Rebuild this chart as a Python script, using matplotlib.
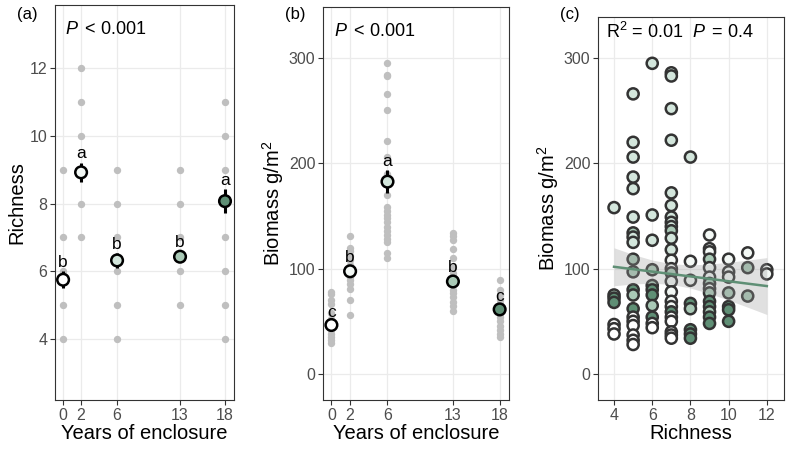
import matplotlib.pyplot as plt
import numpy as np

plt.rcParams['font.family'] = ['Liberation Sans', 'DejaVu Sans']
plt.rcParams['mathtext.fontset'] = 'custom'
plt.rcParams['mathtext.rm'] = 'Liberation Sans'
plt.rcParams['mathtext.it'] = 'Liberation Sans:italic'

# data
years = [0, 2, 6, 13, 18]
year_cols = ['#ffffff', '#f3f8f5', '#d3e6dc', '#a9c9b6', '#5f8f75']

rich_pts = [[4, 5, 6, 7, 9],
            [7, 8, 9, 10, 11, 12],
            [4, 5, 6, 7, 8, 9],
            [5, 6, 7, 8, 9],
            [4, 5, 6, 7, 8, 9, 10, 11]]
rich_mean = [5.75, 8.92, 6.32, 6.43, 8.07]
rich_se = [0.25, 0.29, 0.22, 0.15, 0.35]
rich_letters = ['b', 'a', 'b', 'b', 'a']

bio_pts = [[78, 76, 70, 66, 58, 52, 45, 42, 38, 35, 32, 29],
           [131, 120, 117, 112, 108, 103, 98, 95, 92, 89, 85, 81, 70, 56],
           [295, 284, 283, 266, 251, 221, 206, 190, 170, 159, 155, 151, 148,
            144, 140, 136, 132, 128, 125, 115, 110],
           [134, 131, 127, 119, 110, 102, 96, 92, 85, 80, 77, 73, 68, 65, 60],
           [89, 80, 75, 70, 66, 62, 58, 54, 50, 46, 42, 38, 35]]
bio_mean = [46.5, 97.5, 182.6, 87.8, 61.3]
bio_se = [4, 5, 11, 5, 4]
bio_letters = ['c', 'b', 'a', 'b', 'c']

c_rich = [4, 4, 4, 4, 4, 4, 4,
          5, 5, 5, 5, 5, 5, 5, 5, 5, 5, 5, 5, 5, 5, 5, 5, 5, 5, 5, 5,
          6, 6, 6, 6, 6, 6, 6, 6, 6, 6, 6,
          7, 7, 7, 7, 7, 7, 7, 7, 7, 7, 7, 7, 7, 7, 7, 7, 7, 7, 7, 7, 7, 7, 7, 7, 7,
          8, 8, 8, 8, 8, 8, 8, 8,
          9, 9, 9, 9, 9, 9, 9, 9, 9, 9, 9, 9, 9, 9,
          10, 10, 10, 10, 10, 10, 10,
          11, 11, 11,
          12, 12]
c_bio = [158, 75, 72, 68, 47, 43, 38,
         266, 220, 206, 187, 176, 149, 134, 130, 125, 109, 97, 80, 75, 62, 54, 50, 46, 37, 32, 28,
         295, 151, 127, 99, 84, 80, 75, 65, 54, 48, 44,
         286, 283, 252, 222, 172, 160, 149, 144, 140, 136, 129, 118, 108, 100, 96, 88, 78, 69, 64,
         59, 54, 50, 40, 37, 34,
         206, 107, 89, 67, 62, 42, 38, 34,
         132, 119, 116, 109, 101, 92, 86, 81, 77, 69, 64, 59, 54, 48,
         109, 97, 92, 77, 64, 61, 50,
         115, 101, 74,
         99, 95]
c_year = [6, 13, 18, 18, 0, 0, 0,
          6, 6, 6, 6, 6, 6, 13, 6, 6, 13, 13, 18, 13, 18, 0, 0, 0, 0, 0, 0,
          6, 6, 6, 13, 13, 18, 18, 13, 18, 0, 0,
          6, 6, 6, 6, 6, 6, 6, 6, 6, 13, 6, 6, 2, 2, 13, 2, 2, 2, 2,
          18, 0, 0, 0, 0, 0,
          6, 2, 2, 18, 13, 18, 18, 18,
          2, 2, 2, 13, 2, 2, 13, 2, 13, 18, 18, 13, 18, 18,
          2, 2, 2, 13, 18, 18, 18,
          2, 13, 13,
          2, 2]

fit_x = [4, 12]
fit_y = [101.8, 83.5]
band_x = [4, 5, 6, 7, 8, 9, 10, 11, 12]
band_lo = [83.8, 85.5, 86.2, 85.1, 81.6, 76.4, 70.1, 63.4, 56.5]
band_hi = [119.8, 113.5, 108.2, 104.7, 103.6, 104.4, 106.1, 108.2, 110.5]

W, H = 787, 449
fig = plt.figure(figsize=(W / 100, H / 100), dpi=100)

def box(l, r, t, b):
    return [l / W, 1 - b / H, (r - l) / W, (b - t) / H]

ax1 = fig.add_axes(box(55, 234, 5, 400))
ax2 = fig.add_axes(box(323, 509, 7, 400))
ax3 = fig.add_axes(box(598, 784, 17, 400))

for ax in (ax1, ax2, ax3):
    ax.set_facecolor('white')
    ax.grid(True, color='#ebebeb', lw=0.9, zorder=0)
    ax.set_axisbelow(True)
    for s in ax.spines.values():
        s.set_color('#333333')
        s.set_linewidth(0.8)
    ax.tick_params(length=3.5, width=0.8, color='#333333',
                   labelcolor='#4d4d4d', labelsize=11.5, pad=2)

year_col = dict(zip(years, year_cols))

def group_panel(ax, pts, mean, se, letters):
    for yr, p in zip(years, pts):
        ax.scatter([yr] * len(p), p, s=28, color='#bfbfbf', lw=0, zorder=2)
    ax.errorbar(years, mean, yerr=se, fmt='none', ecolor='black', elinewidth=2.2,
                capsize=0, zorder=3)
    ax.scatter(years, mean, s=70, c=year_cols, edgecolors='black', linewidths=1.8,
               zorder=4)
    for yr, m, e, l in zip(years, mean, se, letters):
        ax.annotate(l, (yr, m + e), xytext=(0, 3), textcoords='offset points',
                    ha='center', va='baseline', fontsize=12.5, zorder=5)
    ax.set_xticks(years)
    ax.set_xlim(-0.9, 19)
    ax.set_xlabel('Years of enclosure', fontsize=14.5, labelpad=1)

group_panel(ax1, rich_pts, rich_mean, rich_se, rich_letters)
ax1.set_ylim(2.2, 13.86)
ax1.set_yticks([4, 6, 8, 10, 12])
ax1.set_ylabel('Richness', fontsize=14.5, labelpad=2)

group_panel(ax2, bio_pts, bio_mean, bio_se, bio_letters)
ax2.set_ylim(-24.7, 348.4)
ax2.set_yticks([0, 100, 200, 300])
ax2.set_ylabel('Biomass g/m$^2$', fontsize=14.5, labelpad=2)

ax3.scatter(c_rich, c_bio, s=64, c=[year_col[y] for y in c_year],
            edgecolors='#333333', linewidths=1.8, zorder=2)
ax3.fill_between(band_x, band_lo, band_hi, color='#999999', alpha=0.3, lw=0, zorder=3)
ax3.plot(fit_x, fit_y, color='#5f8f75', lw=1.8, zorder=4)
ax3.set_xlim(3.16, 12.9)
ax3.set_ylim(-24.7, 339)
ax3.set_xticks([4, 6, 8, 10, 12])
ax3.set_yticks([0, 100, 200, 300])
ax3.set_xlabel('Richness', fontsize=14.5, labelpad=1)
ax3.set_ylabel('Biomass g/m$^2$', fontsize=14.5, labelpad=2)

ptxt = r'$P\,$ < 0.001'
fig.text(65 / W, 1 - 30 / H, ptxt, fontsize=13, va='center')
fig.text(334 / W, 1 - 31 / H, ptxt, fontsize=13, va='center')
fig.text(606 / W, 1 - 32 / H, r'R$^2$ = 0.01  $P\,$ = 0.4', fontsize=13, va='center')

fig.text(27 / W, 1 - 15 / H, '(a)', fontsize=12, ha='center', va='center')
fig.text(295 / W, 1 - 15 / H, '(b)', fontsize=12, ha='center', va='center')
fig.text(570 / W, 1 - 14 / H, '(c)', fontsize=12, ha='center', va='center')

fig.savefig('out.png', dpi=100)
